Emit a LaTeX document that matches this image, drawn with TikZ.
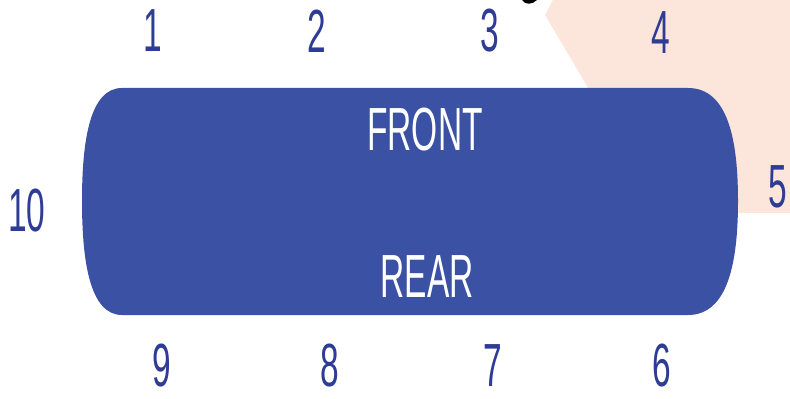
\documentclass[tikz,border=0pt]{standalone}
\usepackage{fontspec}
\setmainfont{Liberation Sans}
\usepackage{graphicx}
\usetikzlibrary{positioning}
\definecolor{TableBlue}{HTML}{3B51A3}
\definecolor{SeatBlue}{HTML}{2E3C95}
\definecolor{PeachBg}{HTML}{FCE5DA}
\newcommand{\slim}[1]{\scalebox{0.55}[1]{#1}}

\begin{document}
\begin{tikzpicture}[x=0.03cm, y=-0.03cm,
  every node/.style={font=\fontsize{52}{52}\selectfont, inner sep=0pt},
  seatnum/.style={text=SeatBlue},
  sidelabel/.style={text=white}]
  \useasboundingbox (0,0) rectangle (790,399);
  % background
  \fill[PeachBg] (553,0) -- (545,15) -- (625,150) -- (700,213) -- (790,213) -- (790,0) -- cycle;
  \fill[black] (522,0) .. controls (525,5) and (532,5) .. (537,0) -- cycle;
  % table
  \fill[TableBlue] (122,88) -- (688,88) .. controls (728,88) and (738,140) .. (738,201)
    .. controls (738,262) and (728,315) .. (688,315) -- (122,315)
    .. controls (90,315) and (82,262) .. (82,201) .. controls (82,140) and (90,88) .. (122,88) -- cycle;
  \node[sidelabel] (front) at (425,130) {\slim{FRONT}};
  \node[sidelabel] (rear) at (427,277) {\slim{REAR}};
  % seats
  \node[seatnum] (s1) at (153,31) {\slim{1}};
  \node[seatnum] (s2) at (317,31) {\slim{2}};
  \node[seatnum] (s3) at (490,31) {\slim{3}};
  \node[seatnum] (s4) at (661,33) {\slim{4}};
  \node[seatnum] (s5) at (778,187) {\slim{5}};
  \node[seatnum] (s6) at (662,366) {\slim{6}};
  \node[seatnum] (s7) at (493,366) {\slim{7}};
  \node[seatnum] (s8) at (330,366) {\slim{8}};
  \node[seatnum] (s9) at (162,366) {\slim{9}};
  \node[seatnum] (s10) at (27,211) {\slim{10}};
\end{tikzpicture}
\end{document}
